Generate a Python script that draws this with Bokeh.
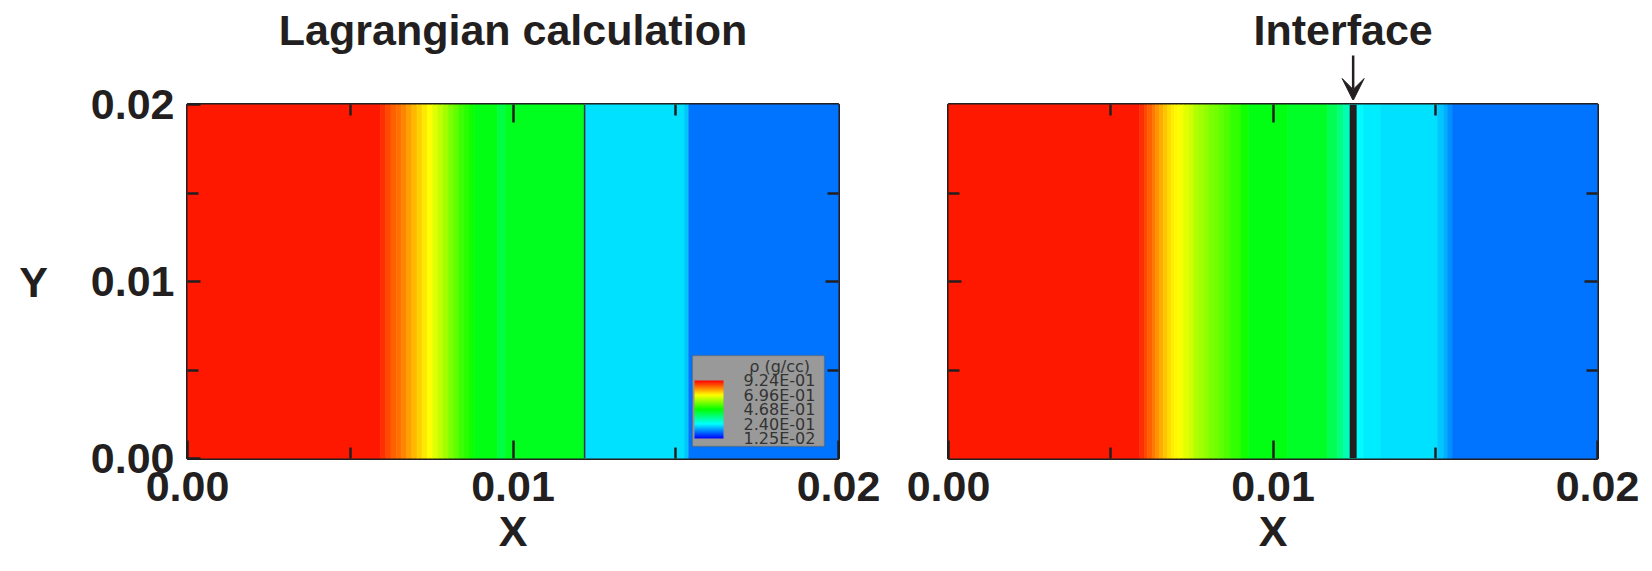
from bokeh.plotting import figure
from bokeh.models import (Range1d, LinearAxis, FixedTicker, ColorBar, LinearColorMapper,
                          Arrow, VeeHead, ColumnDataSource, Span, Label, BoxAnnotation,
                          AllLabels)
from bokeh.layouts import row, column
from bokeh.embed import file_html
from bokeh.resources import INLINE
from bokeh.core.properties import value

# ---------------- data ----------------
titles = ["Lagrangian calculation", "Interface"]
axis_x_label = "X"
axis_y_label = "Y"
tick_values = [0.0, 0.01, 0.02]
tick_labels = ["0.00", "0.01", "0.02"]
minor_tick_values = [0.005, 0.015]
legend_title = "\u03c1 (g/cc)"
legend_values = [0.924, 0.696, 0.468, 0.240, 0.0125]
legend_labels = ["9.24E-01", "6.96E-01", "4.68E-01", "2.40E-01", "1.25E-02"]
rho_low, rho_high = 0.0125, 0.924

# Lagrangian panel: cell edges (x) and density in each cell
lag_edges = [0.0, 0.00593, 0.00609, 0.00625, 0.00641, 0.00657, 0.00673, 0.00689,
             0.00705, 0.00721, 0.00737, 0.00753, 0.00769, 0.00785, 0.00801, 0.00817,
             0.00833, 0.00849, 0.00865, 0.00881, 0.00952, 0.00977, 0.0122, 0.01527,
             0.0154, 0.02]
lag_rho = [0.900, 0.881, 0.859, 0.838, 0.824, 0.803, 0.781, 0.760, 0.738, 0.717,
           0.696, 0.668, 0.640, 0.611, 0.582, 0.554, 0.525, 0.504, 0.482,
           0.454, 0.410, 0.440, 0.212, 0.191, 0.119]
lag_contact = 0.0122

# ALE panel with interface
ale_edges = [0.0, 0.00589, 0.00604, 0.00613, 0.00629, 0.00638, 0.00650, 0.00662,
             0.00675, 0.00687, 0.00696, 0.00709, 0.00724, 0.00740, 0.00755, 0.00770,
             0.00786, 0.00801, 0.00816, 0.00832, 0.00847, 0.00869, 0.00900, 0.00925,
             0.01045, 0.01168, 0.01199, 0.01217, 0.01236, 0.01279, 0.01331, 0.01507,
             0.01526, 0.01538, 0.01553, 0.02]
ale_rho = [0.900, 0.880, 0.858, 0.836, 0.814, 0.792, 0.770, 0.748, 0.727, 0.712, 0.700,
           0.690, 0.669, 0.654, 0.626, 0.611, 0.597, 0.582, 0.568, 0.554, 0.539,
           0.511, 0.483, 0.454, 0.433, 0.397, 0.354, 0.311, 0.240, 0.225, 0.213,
           0.191, 0.170, 0.141, 0.119]
ale_interface = 0.01247

# ---------------- styling ----------------
FONT = "Liberation Sans"
LEG_FONT = "DejaVu Sans"
INK = "#231f20"
BIG = "43px"
FRAME_TOP = 104      # distance of both plot frames from the top of the page
FRAME_H = 354


def rainbow(n):
    cols = []
    for i in range(n):
        f = i / (n - 1)
        if f < 0.25:
            r, g, b = 0, f / 0.25, 1
        elif f < 0.5:
            r, g, b = 0, 1, 1 - (f - 0.25) / 0.25
        elif f < 0.75:
            r, g, b = (f - 0.5) / 0.25, 1, 0
        else:
            r, g, b = 1, 1 - (f - 0.75) / 0.25, 0
        cols.append("#%02x%02x%02x" % (round(r * 255), round(g * 255), round(b * 255)))
    return cols


mapper = LinearColorMapper(palette=rainbow(256), low=rho_low, high=rho_high)


def tick_style(ax, length):
    ax.major_tick_out = 0
    ax.minor_tick_out = 0
    ax.major_tick_in = length
    ax.minor_tick_in = length
    ax.major_tick_line_color = INK
    ax.minor_tick_line_color = INK
    ax.major_tick_line_width = 2.5
    ax.minor_tick_line_width = 2.5
    ax.axis_line_color = None


def labelled_axis(ax, horizontal):
    ax.ticker = FixedTicker(ticks=tick_values, minor_ticks=minor_tick_values)
    tick_style(ax, 18 if horizontal else 13)
    ax.minor_tick_in = 11
    ax.major_label_overrides = {v: l for v, l in zip(tick_values, tick_labels)}
    ax.major_label_text_font = FONT
    ax.major_label_text_font_style = "bold"
    ax.major_label_text_font_size = BIG
    ax.major_label_text_color = INK
    ax.major_label_standoff = 13


def axis_title(ax, text, standoff):
    ax.axis_label = text
    ax.axis_label_text_font = FONT
    ax.axis_label_text_font_style = "bold"
    ax.axis_label_text_font_size = BIG
    ax.axis_label_text_color = INK
    ax.axis_label_standoff = standoff


def tick_only_axes(p, side, horizontal):
    # two label-free axes on the same side: half ticks and the centre tick
    for ticks, length in ((minor_tick_values, 11), ([tick_values[1]], 18 if horizontal else 13)):
        ax = LinearAxis(ticker=FixedTicker(ticks=[], minor_ticks=ticks))
        tick_style(ax, length)
        ax.major_label_standoff = 0
        p.add_layout(ax, side)


def make_panel(edges, rho, left_border, frame_w, show_y, top_border):
    p = figure(frame_width=frame_w, frame_height=FRAME_H,
               x_range=Range1d(0, 0.02), y_range=Range1d(0, 0.02),
               output_backend="svg", toolbar_location=None,
               y_axis_location="left" if show_y else None,
               min_border_left=left_border, min_border_right=55,
               min_border_top=top_border, min_border_bottom=113)
    p.grid.visible = False
    p.outline_line_color = INK
    p.outline_line_width = 3
    src = ColumnDataSource(dict(left=edges[:-1], right=edges[1:], rho=rho))
    cmap = {"field": "rho", "transform": mapper}
    p.quad(left="left", right="right", bottom=0, top=0.02, source=src,
           fill_color=cmap, line_color=cmap, line_width=0.6)
    labelled_axis(p.xaxis[0], True)
    axis_title(p.xaxis[0], axis_x_label, 3)
    if show_y:
        labelled_axis(p.yaxis[0], False)
    else:
        tick_only_axes(p, "left", False)
    tick_only_axes(p, "above", True)
    tick_only_axes(p, "right", False)
    return p


def make_top(p, left_border, frame_w, height):
    t = figure(frame_width=frame_w, frame_height=height, x_range=p.x_range,
               y_range=Range1d(0, height), x_axis_location=None, y_axis_location=None,
               output_backend="svg", toolbar_location=None,
               min_border_left=left_border, min_border_right=55,
               min_border_top=0, min_border_bottom=0)
    t.grid.visible = False
    t.outline_line_color = None
    return t


# ---- left panel: Lagrangian ----
TOP1 = 70
p1 = make_panel(lag_edges, lag_rho, 187, 651, True, FRAME_TOP - TOP1)
ya = p1.yaxis[0]
axis_title(ya, axis_y_label, 40)
ya.axis_label_orientation = "horizontal"
p1.add_layout(Span(location=lag_contact, dimension="height", line_color="#333333",
                   line_width=1.5))

# legend box
p1.add_layout(BoxAnnotation(left=0.01551, right=0.01957, bottom=0.00068, top=0.00582,
                            fill_color="#999999", fill_alpha=1.0,
                            line_color="#444444", line_width=1.5))
cb = ColorBar(color_mapper=mapper, location="bottom_right", margin=20, padding=0,
              width=29, height=58,
              ticker=FixedTicker(ticks=legend_values),
              major_label_overrides={v: l for v, l in zip(legend_values, legend_labels)},
              major_label_policy=AllLabels(),
              major_label_text_font=LEG_FONT, major_label_text_font_size="16px",
              major_label_text_color="#333333", label_standoff=20,
              major_tick_line_color=None, minor_tick_line_color=None, bar_line_color=None,
              background_fill_color=None, border_line_color=None)
p1.add_layout(cb)
p1.add_layout(Label(x=0.01819, y=0.0052, text=legend_title, text_align="center",
                    text_baseline="middle", text_font=LEG_FONT, text_font_size="16px",
                    text_color="#333333"))

t1 = make_top(p1, 187, 651, TOP1)
t1.text(x=[0.01], y=[TOP1 - 29], text=[titles[0]], text_align="center",
        text_baseline="middle", text_font=value(FONT), text_font_style="bold",
        text_font_size=value(BIG), text_color=INK)

# ---- right panel: with interface ----
TOP2 = 100
p2 = make_panel(ale_edges, ale_rho, 55, 649, False, FRAME_TOP - TOP2)
p2.add_layout(Span(location=ale_interface, dimension="height", line_color=INK,
                   line_width=7))

t2 = make_top(p2, 55, 649, TOP2)
t2.text(x=[ale_interface], y=[TOP2 - 29], text=[titles[1]], text_align="center",
        x_offset=-10, text_baseline="middle", text_font=value(FONT),
        text_font_style="bold", text_font_size=value(BIG), text_color=INK)
t2.add_layout(Arrow(end=VeeHead(size=22, fill_color=INK, line_color=INK),
                    x_start=ale_interface, y_start=TOP2 - 55,
                    x_end=ale_interface, y_end=0,
                    line_color=INK, line_width=2.5))

layout = row(column(t1, p1), column(t2, p2))
open("out.html", "w").write(file_html(layout, INLINE))
